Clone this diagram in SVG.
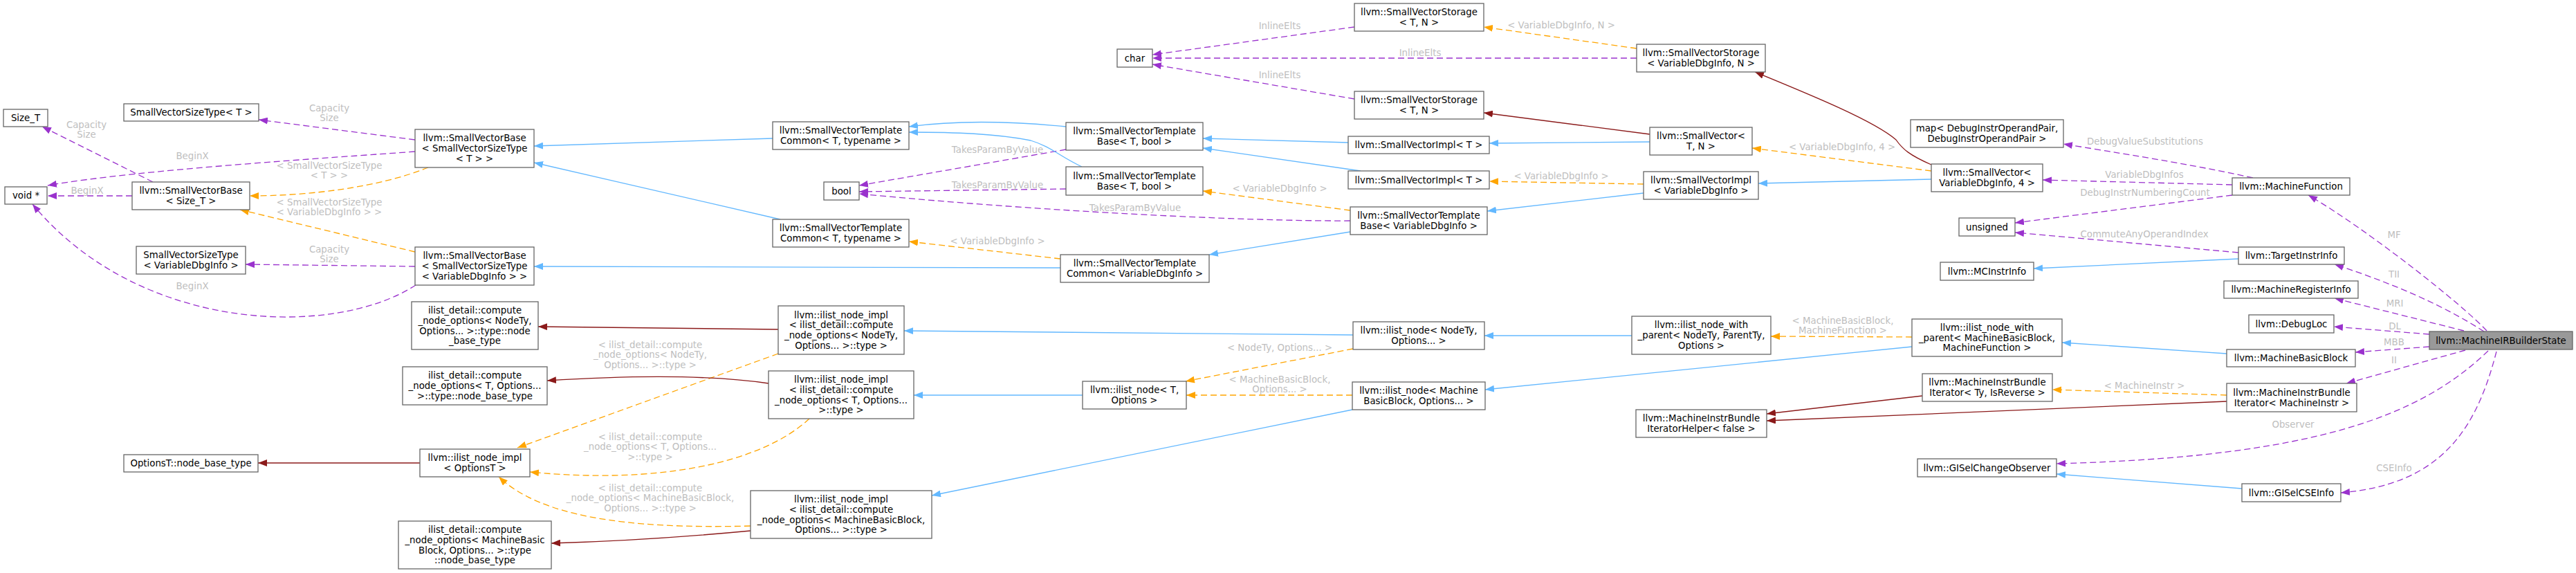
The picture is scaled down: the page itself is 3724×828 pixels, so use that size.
<svg xmlns="http://www.w3.org/2000/svg" width="3724" height="828" viewBox="0 0 3724 828">
<style>
.n rect{fill:#fff;stroke:#666;stroke-width:1.3}
#n50 rect{fill:#999}
text{font-family:"DejaVu Sans","Liberation Sans",sans-serif;font-size:13.33px;text-anchor:middle;fill:#000}
.lb text{fill:#bebebe}
.e path{fill:none;stroke-width:1.3}
.e .u{stroke:#9a32cd;stroke-dasharray:9,5;marker-end:url(#mu)}
.e .t{stroke:#ffa500;stroke-dasharray:9,5;marker-end:url(#mt)}
.e .i{stroke:#63b8ff;marker-end:url(#mi)}
.e .p{stroke:#8b1a1a;marker-end:url(#mp)}
</style>
<defs>
<marker id="mu" viewBox="0 0 13 10" refX="13" refY="5" markerWidth="13" markerHeight="10" markerUnits="userSpaceOnUse" orient="auto"><path d="M0,0L13,5L0,10z" fill="#9a32cd" stroke="none"/></marker>
<marker id="mt" viewBox="0 0 13 10" refX="13" refY="5" markerWidth="13" markerHeight="10" markerUnits="userSpaceOnUse" orient="auto"><path d="M0,0L13,5L0,10z" fill="#ffa500" stroke="none"/></marker>
<marker id="mi" viewBox="0 0 13 10" refX="13" refY="5" markerWidth="13" markerHeight="10" markerUnits="userSpaceOnUse" orient="auto"><path d="M0,0L13,5L0,10z" fill="#63b8ff" stroke="none"/></marker>
<marker id="mp" viewBox="0 0 13 10" refX="13" refY="5" markerWidth="13" markerHeight="10" markerUnits="userSpaceOnUse" orient="auto"><path d="M0,0L13,5L0,10z" fill="#8b1a1a" stroke="none"/></marker>
</defs>
<rect width="3724" height="828" fill="#fff"/>
<g id="edges" class="e">
<path class="u" d="M221,263L61,183"/>
<path class="u" d="M600,219C480,228 200,245 69,268"/>
<path class="u" d="M191,283L69,283"/>
<path class="u" d="M600,202L374,173"/>
<path class="u" d="M600,385L355,382"/>
<path class="u" d="M601,412C480,490 200,480 47,295"/>
<path class="u" d="M1541,216L1242,268"/>
<path class="u" d="M1541,273L1242,277"/>
<path class="u" d="M1952,319C1800,320 1500,305 1242,280"/>
<path class="u" d="M1958,39L1666,79"/>
<path class="u" d="M2366,84L1666,84"/>
<path class="u" d="M1958,143L1666,93"/>
<path class="u" d="M3257,257C3180,240 3100,227 2983,208"/>
<path class="u" d="M3227,267L2953,260"/>
<path class="u" d="M3227,282L2913,322"/>
<path class="u" d="M3236,365L2913,336"/>
<path class="u" d="M3595,478C3560,440 3420,330 3337,282"/>
<path class="u" d="M3591,479C3530,440 3460,410 3375,382"/>
<path class="u" d="M3562,478L3375,431"/>
<path class="u" d="M3512,483L3374,472"/>
<path class="u" d="M3512,501L3405,509"/>
<path class="u" d="M3564,506L3392,554"/>
<path class="u" d="M3597,507C3500,600 3350,660 2973,670"/>
<path class="u" d="M3609,508C3580,620 3530,700 3384,712"/>
<path class="t" d="M619,242C550,270 450,283 361,283"/>
<path class="t" d="M600,364L347,303"/>
<path class="t" d="M1533,374L1314,349"/>
<path class="t" d="M2366,70L2145,39"/>
<path class="t" d="M2376,266L2153,262"/>
<path class="t" d="M1952,304L1739,276"/>
<path class="t" d="M2792,247L2533,214"/>
<path class="t" d="M1956,504L1714,551"/>
<path class="t" d="M1955,571L1715,571"/>
<path class="t" d="M2764,487L2560,486"/>
<path class="t" d="M3219,571L2967,563"/>
<path class="t" d="M1125,511L748,647"/>
<path class="t" d="M1170,605C1100,670 950,700 766,682"/>
<path class="t" d="M1085,760C900,765 780,745 721,689"/>
<path class="i" d="M1117,200L772,211"/>
<path class="i" d="M1128,317L772,235"/>
<path class="i" d="M1533,387L772,385"/>
<path class="i" d="M1541,183C1450,174 1380,174 1314,183"/>
<path class="i" d="M1564,241C1530,225 1520,212 1490,203C1440,193 1380,191 1314,191"/>
<path class="i" d="M1949,206L1739,200"/>
<path class="i" d="M1967,247L1739,214"/>
<path class="i" d="M2385,205L2153,207"/>
<path class="i" d="M2376,279L2150,305"/>
<path class="i" d="M1952,335L1748,368"/>
<path class="i" d="M2792,259L2542,265"/>
<path class="i" d="M3236,374L2940,388"/>
<path class="i" d="M1565,571L1321,571"/>
<path class="i" d="M1956,484L1307,478"/>
<path class="i" d="M1955,592L1347,716"/>
<path class="i" d="M2359,485L2146,485"/>
<path class="i" d="M2764,501L2147,563"/>
<path class="i" d="M3219,511L2981,495"/>
<path class="i" d="M3241,706L2973,685"/>
<path class="p" d="M2385,194L2145,163"/>
<path class="p" d="M2792,238C2760,224 2750,215 2741,202C2710,175 2620,138 2537,104"/>
<path class="p" d="M1125,476L778,472"/>
<path class="p" d="M1111,554C1050,545 950,540 791,550"/>
<path class="p" d="M1085,767C1000,775 900,782 797,785"/>
<path class="p" d="M607,669L373,669"/>
<path class="p" d="M2779,572L2554,598"/>
<path class="p" d="M3219,580L2554,608"/>
</g>
<g id="labels" class="lb">
<text x="476"><tspan x="476" y="160.6">Capacity</tspan><tspan x="476" y="175.3">Size</tspan></text>
<text><tspan x="125" y="184.6">Capacity</tspan><tspan x="125" y="199.3">Size</tspan></text>
<text x="278" y="229.6">BeginX</text>
<text><tspan x="476" y="243.6">&lt; SmallVectorSizeType</tspan><tspan x="476" y="258.3">&lt; T &gt; &gt;</tspan></text>
<text x="126" y="279.6">BeginX</text>
<text><tspan x="476" y="296.6">&lt; SmallVectorSizeType</tspan><tspan x="476" y="311.3">&lt; VariableDbgInfo &gt; &gt;</tspan></text>
<text><tspan x="476" y="364.6">Capacity</tspan><tspan x="476" y="379.3">Size</tspan></text>
<text x="278" y="417.6">BeginX</text>
<text x="1850" y="41.6">InlineElts</text>
<text x="2053" y="80.6">InlineElts</text>
<text x="1850" y="112.6">InlineElts</text>
<text x="2257" y="40.6">&lt; VariableDbgInfo, N &gt;</text>
<text x="1442" y="220.6">TakesParamByValue</text>
<text x="1442" y="271.6">TakesParamByValue</text>
<text x="1641" y="304.6">TakesParamByValue</text>
<text x="1442" y="352.6">&lt; VariableDbgInfo &gt;</text>
<text x="1850" y="276.6">&lt; VariableDbgInfo &gt;</text>
<text x="2257" y="258.6">&lt; VariableDbgInfo &gt;</text>
<text x="2663" y="216.6">&lt; VariableDbgInfo, 4 &gt;</text>
<text x="3101" y="208.6">DebugValueSubstitutions</text>
<text x="3100" y="256.6">VariableDbgInfos</text>
<text x="3101" y="282.6">DebugInstrNumberingCount</text>
<text x="3100" y="342.6">CommuteAnyOperandIndex</text>
<text x="3461" y="343.6">MF</text>
<text x="3461" y="400.6">TII</text>
<text x="3462" y="442.6">MRI</text>
<text x="3462" y="475.6">DL</text>
<text x="3461" y="498.6">MBB</text>
<text x="3461" y="524.6">II</text>
<text x="3315" y="617.6">Observer</text>
<text x="3461" y="680.6">CSEInfo</text>
<text x="3100" y="561.6">&lt; MachineInstr &gt;</text>
<text><tspan x="2664" y="467.6">&lt; MachineBasicBlock,</tspan><tspan x="2664" y="482.3">MachineFunction &gt;</tspan></text>
<text x="1850" y="506.6">&lt; NodeTy, Options... &gt;</text>
<text><tspan x="1850" y="552.6">&lt; MachineBasicBlock,</tspan><tspan x="1850" y="567.3">Options... &gt;</tspan></text>
<text><tspan x="940" y="502.6">&lt; ilist_detail::compute</tspan><tspan x="940" y="517.3">_node_options&lt; NodeTy,</tspan><tspan x="940" y="532">Options... &gt;::type &gt;</tspan></text>
<text><tspan x="940" y="635.6">&lt; ilist_detail::compute</tspan><tspan x="940" y="650.3">_node_options&lt; T, Options...</tspan><tspan x="940" y="665">&gt;::type &gt;</tspan></text>
<text><tspan x="940" y="709.6">&lt; ilist_detail::compute</tspan><tspan x="940" y="724.3">_node_options&lt; MachineBasicBlock,</tspan><tspan x="940" y="739">Options... &gt;::type &gt;</tspan></text>
</g>
<g id="n1" class="n"><rect x="5" y="158" width="64" height="25"/><text x="37" y="175.1">Size_T</text></g>
<g id="n2" class="n"><rect x="7" y="270" width="61" height="25"/><text x="37.5" y="287.1">void *</text></g>
<g id="n3" class="n"><rect x="179" y="150" width="195" height="25"/><text x="276.5" y="167.1">SmallVectorSizeType&lt; T &gt;</text></g>
<g id="n4" class="n"><rect x="191" y="263" width="170" height="40"/><text><tspan x="276" y="280.3">llvm::SmallVectorBase</tspan><tspan x="276" y="295">&lt; Size_T &gt;</tspan></text></g>
<g id="n5" class="n"><rect x="197" y="356" width="158" height="40"/><text><tspan x="276" y="373.3">SmallVectorSizeType</tspan><tspan x="276" y="388">&lt; VariableDbgInfo &gt;</tspan></text></g>
<g id="n6" class="n"><rect x="600" y="187" width="172" height="55"/><text><tspan x="686" y="204.4">llvm::SmallVectorBase</tspan><tspan x="686" y="219.1">&lt; SmallVectorSizeType</tspan><tspan x="686" y="233.8">&lt; T &gt; &gt;</tspan></text></g>
<g id="n7" class="n"><rect x="600" y="357" width="172" height="55"/><text><tspan x="686" y="374.4">llvm::SmallVectorBase</tspan><tspan x="686" y="389.1">&lt; SmallVectorSizeType</tspan><tspan x="686" y="403.8">&lt; VariableDbgInfo &gt; &gt;</tspan></text></g>
<g id="n8" class="n"><rect x="179" y="657" width="194" height="25"/><text x="276" y="674.1">OptionsT::node_base_type</text></g>
<g id="n9" class="n"><rect x="595" y="436" width="183" height="69"/><text><tspan x="686.5" y="453.1">ilist_detail::compute</tspan><tspan x="686.5" y="467.8">_node_options&lt; NodeTy,</tspan><tspan x="686.5" y="482.5">Options... &gt;::type::node</tspan><tspan x="686.5" y="497.1">_base_type</tspan></text></g>
<g id="n10" class="n"><rect x="582" y="530" width="209" height="55"/><text><tspan x="686.5" y="547.4">ilist_detail::compute</tspan><tspan x="686.5" y="562.1">_node_options&lt; T, Options...</tspan><tspan x="686.5" y="576.8">&gt;::type::node_base_type</tspan></text></g>
<g id="n11" class="n"><rect x="607" y="649" width="159" height="40"/><text><tspan x="686.5" y="666.3">llvm::ilist_node_impl</tspan><tspan x="686.5" y="681">&lt; OptionsT &gt;</tspan></text></g>
<g id="n12" class="n"><rect x="576" y="753" width="221" height="69"/><text><tspan x="686.5" y="770.1">ilist_detail::compute</tspan><tspan x="686.5" y="784.8">_node_options&lt; MachineBasic</tspan><tspan x="686.5" y="799.5">Block, Options... &gt;::type</tspan><tspan x="686.5" y="814.1">::node_base_type</tspan></text></g>
<g id="n13" class="n"><rect x="1117" y="176" width="197" height="40"/><text><tspan x="1215.5" y="193.3">llvm::SmallVectorTemplate</tspan><tspan x="1215.5" y="208">Common&lt; T, typename &gt;</tspan></text></g>
<g id="n14" class="n"><rect x="1117" y="317" width="197" height="40"/><text><tspan x="1215.5" y="334.3">llvm::SmallVectorTemplate</tspan><tspan x="1215.5" y="349">Common&lt; T, typename &gt;</tspan></text></g>
<g id="n15" class="n"><rect x="1191" y="263" width="51" height="26"/><text x="1216.5" y="280.6">bool</text></g>
<g id="n16" class="n"><rect x="1125" y="442" width="182" height="70"/><text><tspan x="1216" y="459.6">llvm::ilist_node_impl</tspan><tspan x="1216" y="474.3">&lt; ilist_detail::compute</tspan><tspan x="1216" y="489">_node_options&lt; NodeTy,</tspan><tspan x="1216" y="503.6">Options... &gt;::type &gt;</tspan></text></g>
<g id="n17" class="n"><rect x="1111" y="536" width="210" height="69"/><text><tspan x="1216" y="553.1">llvm::ilist_node_impl</tspan><tspan x="1216" y="567.8">&lt; ilist_detail::compute</tspan><tspan x="1216" y="582.5">_node_options&lt; T, Options...</tspan><tspan x="1216" y="597.1">&gt;::type &gt;</tspan></text></g>
<g id="n18" class="n"><rect x="1085" y="709" width="262" height="69"/><text><tspan x="1216" y="726.1">llvm::ilist_node_impl</tspan><tspan x="1216" y="740.8">&lt; ilist_detail::compute</tspan><tspan x="1216" y="755.5">_node_options&lt; MachineBasicBlock,</tspan><tspan x="1216" y="770.1">Options... &gt;::type &gt;</tspan></text></g>
<g id="n19" class="n"><rect x="1615" y="71" width="51" height="26"/><text x="1640.5" y="88.6">char</text></g>
<g id="n20" class="n"><rect x="1541" y="177" width="198" height="40"/><text><tspan x="1640" y="194.3">llvm::SmallVectorTemplate</tspan><tspan x="1640" y="209">Base&lt; T, bool &gt;</tspan></text></g>
<g id="n21" class="n"><rect x="1541" y="241" width="198" height="41"/><text><tspan x="1640" y="258.8">llvm::SmallVectorTemplate</tspan><tspan x="1640" y="273.5">Base&lt; T, bool &gt;</tspan></text></g>
<g id="n22" class="n"><rect x="1533" y="368" width="215" height="40"/><text><tspan x="1640.5" y="385.3">llvm::SmallVectorTemplate</tspan><tspan x="1640.5" y="400">Common&lt; VariableDbgInfo &gt;</tspan></text></g>
<g id="n23" class="n"><rect x="1565" y="551" width="150" height="40"/><text><tspan x="1640" y="568.3">llvm::ilist_node&lt; T,</tspan><tspan x="1640" y="583">Options &gt;</tspan></text></g>
<g id="n24" class="n"><rect x="1958" y="5" width="187" height="40"/><text><tspan x="2051.5" y="22.3">llvm::SmallVectorStorage</tspan><tspan x="2051.5" y="37">&lt; T, N &gt;</tspan></text></g>
<g id="n25" class="n"><rect x="1958" y="132" width="187" height="40"/><text><tspan x="2051.5" y="149.3">llvm::SmallVectorStorage</tspan><tspan x="2051.5" y="164">&lt; T, N &gt;</tspan></text></g>
<g id="n26" class="n"><rect x="1949" y="197" width="204" height="25"/><text x="2051" y="214.1">llvm::SmallVectorImpl&lt; T &gt;</text></g>
<g id="n27" class="n"><rect x="1949" y="247" width="204" height="26"/><text x="2051" y="264.6">llvm::SmallVectorImpl&lt; T &gt;</text></g>
<g id="n28" class="n"><rect x="1952" y="299" width="198" height="40"/><text><tspan x="2051" y="316.3">llvm::SmallVectorTemplate</tspan><tspan x="2051" y="331">Base&lt; VariableDbgInfo &gt;</tspan></text></g>
<g id="n29" class="n"><rect x="1956" y="465" width="190" height="40"/><text><tspan x="2051" y="482.3">llvm::ilist_node&lt; NodeTy,</tspan><tspan x="2051" y="497">Options... &gt;</tspan></text></g>
<g id="n30" class="n"><rect x="1955" y="552" width="192" height="40"/><text><tspan x="2051" y="569.3">llvm::ilist_node&lt; Machine</tspan><tspan x="2051" y="584">BasicBlock, Options... &gt;</tspan></text></g>
<g id="n31" class="n"><rect x="2366" y="64" width="186" height="40"/><text><tspan x="2459" y="81.3">llvm::SmallVectorStorage</tspan><tspan x="2459" y="96">&lt; VariableDbgInfo, N &gt;</tspan></text></g>
<g id="n32" class="n"><rect x="2385" y="184" width="148" height="40"/><text><tspan x="2459" y="201.3">llvm::SmallVector&lt;</tspan><tspan x="2459" y="216">T, N &gt;</tspan></text></g>
<g id="n33" class="n"><rect x="2376" y="248" width="166" height="40"/><text><tspan x="2459" y="265.3">llvm::SmallVectorImpl</tspan><tspan x="2459" y="280">&lt; VariableDbgInfo &gt;</tspan></text></g>
<g id="n34" class="n"><rect x="2359" y="457" width="201" height="55"/><text><tspan x="2459.5" y="474.4">llvm::ilist_node_with</tspan><tspan x="2459.5" y="489.1">_parent&lt; NodeTy, ParentTy,</tspan><tspan x="2459.5" y="503.8">Options &gt;</tspan></text></g>
<g id="n35" class="n"><rect x="2365" y="592" width="189" height="40"/><text><tspan x="2459.5" y="609.3">llvm::MachineInstrBundle</tspan><tspan x="2459.5" y="624">IteratorHelper&lt; false &gt;</tspan></text></g>
<g id="n36" class="n"><rect x="2762" y="173" width="221" height="40"/><text><tspan x="2872.5" y="190.3">map&lt; DebugInstrOperandPair,</tspan><tspan x="2872.5" y="205">DebugInstrOperandPair &gt;</tspan></text></g>
<g id="n37" class="n"><rect x="2792" y="237" width="161" height="40"/><text><tspan x="2872.5" y="254.3">llvm::SmallVector&lt;</tspan><tspan x="2872.5" y="269">VariableDbgInfo, 4 &gt;</tspan></text></g>
<g id="n38" class="n"><rect x="2832" y="315" width="81" height="26"/><text x="2872.5" y="332.6">unsigned</text></g>
<g id="n39" class="n"><rect x="2805" y="379" width="135" height="26"/><text x="2872.5" y="396.6">llvm::MCInstrInfo</text></g>
<g id="n40" class="n"><rect x="2764" y="461" width="217" height="54"/><text><tspan x="2872.5" y="477.9">llvm::ilist_node_with</tspan><tspan x="2872.5" y="492.6">_parent&lt; MachineBasicBlock,</tspan><tspan x="2872.5" y="507.3">MachineFunction &gt;</tspan></text></g>
<g id="n41" class="n"><rect x="2779" y="540" width="188" height="40"/><text><tspan x="2873" y="557.3">llvm::MachineInstrBundle</tspan><tspan x="2873" y="572">Iterator&lt; Ty, IsReverse &gt;</tspan></text></g>
<g id="n42" class="n"><rect x="2772" y="663" width="201" height="26"/><text x="2872.5" y="680.6">llvm::GISelChangeObserver</text></g>
<g id="n43" class="n"><rect x="3227" y="257" width="170" height="25"/><text x="3312" y="274.1">llvm::MachineFunction</text></g>
<g id="n44" class="n"><rect x="3236" y="357" width="153" height="25"/><text x="3312.5" y="374.1">llvm::TargetInstrInfo</text></g>
<g id="n45" class="n"><rect x="3215" y="406" width="194" height="25"/><text x="3312" y="423.1">llvm::MachineRegisterInfo</text></g>
<g id="n46" class="n"><rect x="3251" y="455" width="123" height="26"/><text x="3312.5" y="472.6">llvm::DebugLoc</text></g>
<g id="n47" class="n"><rect x="3219" y="505" width="186" height="25"/><text x="3312" y="522.1">llvm::MachineBasicBlock</text></g>
<g id="n48" class="n"><rect x="3219" y="554" width="188" height="41"/><text><tspan x="3313" y="571.8">llvm::MachineInstrBundle</tspan><tspan x="3313" y="586.5">Iterator&lt; MachineInstr &gt;</tspan></text></g>
<g id="n49" class="n"><rect x="3241" y="699" width="143" height="26"/><text x="3312.5" y="716.6">llvm::GISelCSEInfo</text></g>
<g id="n50" class="n"><rect x="3512" y="479" width="207" height="26"/><text x="3615.5" y="496.6">llvm::MachineIRBuilderState</text></g>
</svg>
